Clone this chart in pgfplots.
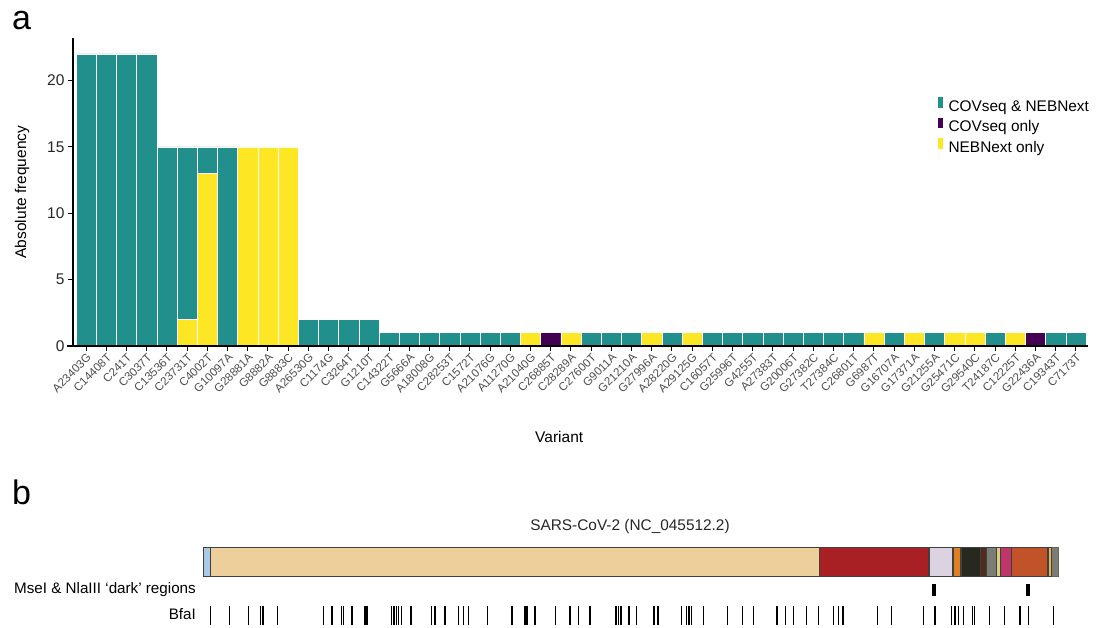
\documentclass[border=0pt]{standalone}
\usepackage{pgfplots}
\pgfplotsset{compat=1.18}
\usepackage{pgfplotstable}
\usepackage{fontspec}
\setmainfont{Liberation Sans}

% viridis-style category colours
\definecolor{both}{HTML}{21908C}
\definecolor{covonly}{HTML}{440154}
\definecolor{nebonly}{HTML}{FDE725}
\definecolor{tickgrey}{HTML}{4D4D4D}
% genome feature colours
\definecolor{utrfive}{HTML}{A9C9E4}
\definecolor{orfoneab}{HTML}{EDCF9C}
\definecolor{spike}{HTML}{A81F24}
\definecolor{orfthreea}{HTML}{DCD3E2}
\definecolor{envelope}{HTML}{DF7F20}
\definecolor{membrane}{HTML}{272820}
\definecolor{orfsix}{HTML}{512B1D}
\definecolor{orfsevena}{HTML}{7B7C74}
\definecolor{orfsevenb}{HTML}{D3D27A}
\definecolor{orfeight}{HTML}{BF3668}
\definecolor{nucleo}{HTML}{C05327}
\definecolor{orften}{HTML}{E6B55A}
\definecolor{utrthree}{HTML}{7B7C74}

% variant counts per category (x = variant index)
\pgfplotstableread{
x  both cov neb
1  22 0 0
2  22 0 0
3  22 0 0
4  22 0 0
5  15 0 0
6  13 0 2
7  2  0 13
8  15 0 0
9  0  0 15
10 0  0 15
11 0  0 15
12 2  0 0
13 2  0 0
14 2  0 0
15 2  0 0
16 1  0 0
17 1  0 0
18 1  0 0
19 1  0 0
20 1  0 0
21 1  0 0
22 1  0 0
23 0  0 1
24 0  1 0
25 0  0 1
26 1  0 0
27 1  0 0
28 1  0 0
29 0  0 1
30 1  0 0
31 0  0 1
32 1  0 0
33 1  0 0
34 1  0 0
35 1  0 0
36 1  0 0
37 1  0 0
38 1  0 0
39 1  0 0
40 0  0 1
41 1  0 0
42 0  0 1
43 1  0 0
44 0  0 1
45 0  0 1
46 1  0 0
47 0  0 1
48 0  1 0
49 1  0 0
50 1  0 0
}\variants

% BfaI recognition sites (genome position)
\pgfplotstableread{
pos y
255 11.5
920 11.5
1584 11.5
2018 11.5
2098 11.5
2599 11.5
4214 11.5
4512 11.5
4851 11.5
4907 11.5
5211 11.5
5666 11.5
5736 11.5
6593 11.5
6680 11.5
6767 11.5
6837 11.5
6942 11.5
7275 11.5
7999 11.5
8114 11.5
8464 11.5
8929 11.5
9104 11.5
9279 11.5
9950 11.5
10807 11.5
11262 11.5
11332 11.5
11611 11.5
12328 11.5
12836 11.5
13126 11.5
13535 11.5
14444 11.5
14532 11.5
14619 11.5
14899 11.5
15168 11.5
15773 11.5
15913 11.5
16742 11.5
16917 11.5
16997 11.5
17092 11.5
17498 11.5
18344 11.5
18869 11.5
19246 11.5
20075 11.5
20372 11.5
20645 11.5
21114 11.5
21519 11.5
22044 11.5
22219 11.5
22383 11.5
23590 11.5
24087 11.5
25192 11.5
25601 11.5
26185 11.5
26300 11.5
26416 11.5
26591 11.5
26913 11.5
26976 11.5
27500 11.5
28021 11.5
28574 11.5
28864 11.5
29752 11.5
}\bfaisites

\begin{document}
\begin{tikzpicture}[x=1pt,y=1pt]
\useasboundingbox (0,0) rectangle (1098,627);

\node[font=\fontsize{34}{34}\selectfont, anchor=base west, inner sep=0pt] at (12,597) {a};
\node[font=\fontsize{34}{34}\selectfont, anchor=base west, inner sep=0pt] at (12,122) {b};

% ---------- panel a: stacked variant frequencies ----------
\begin{axis}[
  at={(73pt,281pt)}, anchor=south west,
  scale only axis, width=1015pt, height=308pt,
  xmin=0.35, xmax=50.6, ymin=0, ymax=23.2,
  ybar stacked, bar width=1,
  axis lines=left, axis line style={-, line width=1.1pt, black},
  x axis line style={shorten <=-6pt},
  axis on top,
  tick align=outside, major tick length=5pt,
  tick style={black, line width=0.9pt},
  xtick={1,...,50},
  xticklabels={A23403G,C14408T,C241T,C3037T,C13536T,C23731T,C4002T,G10097A,G28881A,G8882A,G8883C,A26530G,C1174G,C3264T,G1210T,C14322T,G5666A,A18008G,C28253T,C1572T,A21076G,A11270G,A21040G,C26885T,C28289A,C27600T,G9011A,G21210A,G27996A,A28220G,A29125G,C16057T,G25996T,G4255T,A27383T,G20006T,G27382C,T27384C,C26801T,G6987T,G16707A,G17371A,G21255A,G25471C,G29540C,T24187C,C12225T,G22436A,C19343T,C7173T},
  xticklabel style={rotate=45, anchor=north east, inner sep=1pt,
    font=\fontsize{11.6}{12}\selectfont, text=tickgrey},
  ytick={0,5,10,15,20},
  yticklabel style={font=\fontsize{15.5}{16}\selectfont, text=black!85},
  /pgf/number format/assume math mode=true,
  ylabel={Absolute frequency},
  xlabel={Variant},
  every axis y label/.style={at={(axis description cs:-0.0502,0.5)}, rotate=90, anchor=center,
    font=\fontsize{15.5}{16}\selectfont},
  every axis x label/.style={at={(axis description cs:0.479,-0.295)}, anchor=center,
    font=\fontsize{15.5}{16}\selectfont},
  reverse legend,
  legend image code/.code={\fill[#1] (0pt,-0.5pt) rectangle (6pt,11pt);},
  legend style={draw=none, fill=none, inner sep=0pt,
    at={(axis description cs:0.851,0.812)}, anchor=north west,
    font=\fontsize{15.4}{16}\selectfont,
    nodes={inner sep=0pt, text height=11pt, text depth=3.5pt},
    row sep=2pt, column sep=5pt},
  legend cell align=left,
]
\addplot[fill=nebonly, draw=white, line width=0.6pt] table[x=x, y=neb] {\variants};
\addplot[fill=covonly, draw=white, line width=0.6pt] table[x=x, y=cov] {\variants};
\addplot[fill=both, draw=white, line width=0.6pt] table[x=x, y=both] {\variants};
\legend{NEBNext only, COVseq only, COVseq \& NEBNext}
\end{axis}

% ---------- panel b: genome map ----------
\begin{axis}[
  at={(203pt,0pt)}, anchor=south west,
  scale only axis, width=855pt, height=120pt,
  xmin=0, xmax=29903, ymin=0, ymax=120,
  hide axis, clip=false,
]
\addplot[fill=utrthree, draw=black!60, line width=0.8pt] coordinates {(0,51) (29903,51) (29903,80) (0,80)} -- cycle;
\addplot[fill=utrfive, draw=black!75, line width=0.6pt] coordinates {(1,51) (265,51) (265,80) (1,80)} -- cycle;
\addplot[fill=orfoneab, draw=black!75, line width=0.6pt] coordinates {(266,51) (21555,51) (21555,80) (266,80)} -- cycle;
\addplot[fill=spike, draw=black!75, line width=0.6pt] coordinates {(21563,51) (25384,51) (25384,80) (21563,80)} -- cycle;
\addplot[fill=orfthreea, draw=black!75, line width=0.6pt] coordinates {(25393,51) (26220,51) (26220,80) (25393,80)} -- cycle;
\addplot[fill=envelope, draw=black!75, line width=0.6pt] coordinates {(26245,51) (26472,51) (26472,80) (26245,80)} -- cycle;
\addplot[fill=membrane, draw=black!75, line width=0.6pt] coordinates {(26523,51) (27191,51) (27191,80) (26523,80)} -- cycle;
\addplot[fill=orfsix, draw=black!75, line width=0.6pt] coordinates {(27202,51) (27387,51) (27387,80) (27202,80)} -- cycle;
\addplot[fill=orfsevena, draw=black!75, line width=0.6pt] coordinates {(27394,51) (27759,51) (27759,80) (27394,80)} -- cycle;
\addplot[fill=orfsevenb, draw=black!75, line width=0.6pt] coordinates {(27756,51) (27887,51) (27887,80) (27756,80)} -- cycle;
\addplot[fill=orfeight, draw=black!75, line width=0.6pt] coordinates {(27894,51) (28259,51) (28259,80) (27894,80)} -- cycle;
\addplot[fill=nucleo, draw=black!75, line width=0.6pt] coordinates {(28274,51) (29533,51) (29533,80) (28274,80)} -- cycle;
\addplot[fill=orften, draw=black!75, line width=0.6pt] coordinates {(29558,51) (29674,51) (29674,80) (29558,80)} -- cycle;
% regions lacking MseI / NlaIII sites
\addplot[fill=black, draw=none] coordinates {(25490,31) (25630,31) (25630,43) (25490,43)} -- cycle;
\addplot[fill=black, draw=none] coordinates {(28790,31) (28940,31) (28940,43) (28790,43)} -- cycle;
% BfaI cut sites
\addplot[only marks, mark=|, mark size=9.5pt, mark options={line width=1.1pt, black}] table[x=pos, y=y] {\bfaisites};

\node[font=\fontsize{15.4}{16}\selectfont, text=black!85] at (axis cs:14934,100) {SARS-CoV-2 (NC\_045512.2)};
\node[font=\fontsize{15.2}{16}\selectfont, anchor=east, inner sep=0pt] at (axis cs:-245,37) {MseI \& NlaIII ‘dark’ regions};
\node[font=\fontsize{15.2}{16}\selectfont, anchor=east, inner sep=0pt] at (axis cs:-245,13) {BfaI};
\end{axis}
\end{tikzpicture}
\end{document}
